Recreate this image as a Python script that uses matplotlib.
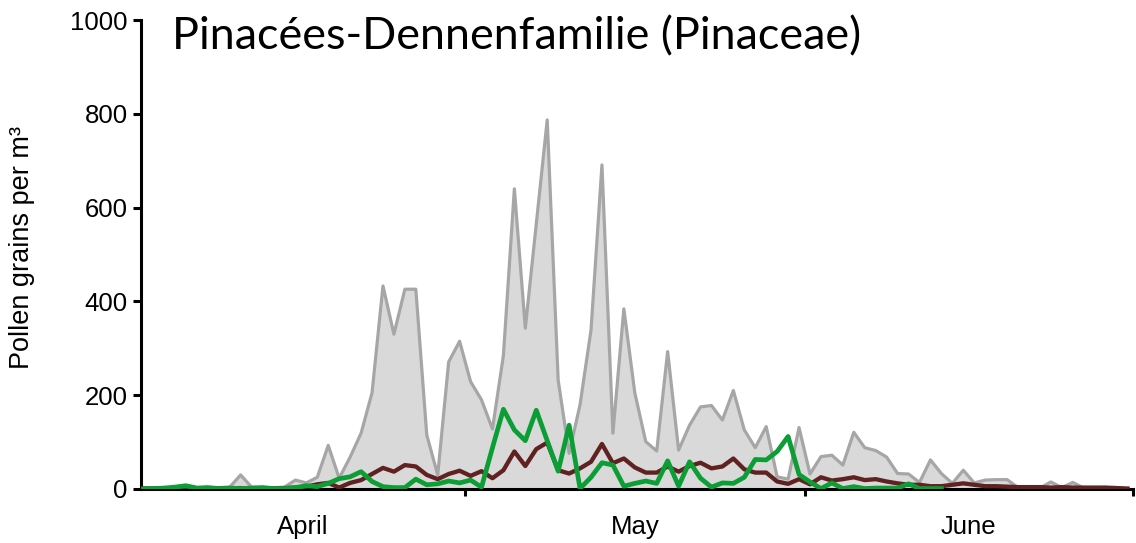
import matplotlib
matplotlib.use("Agg")
import matplotlib.pyplot as plt
import numpy as np

# daily pollen counts, 1 April (day 0) to 30 June (day 90)
gray_vals = [2, 2, 3, 2, 3, 2, 3, 3, 4,
             30, 4, 3, 3, 4, 19, 13, 25, 93, 23,
             68, 119, 205, 433, 330, 426, 426, 115, 30, 271,
             315, 229, 190, 128, 285, 640, 343, 565, 787, 232,
             76, 180, 339, 691, 119, 384, 205, 101, 81, 293,
             83, 136, 175, 178, 147, 210, 126, 88, 133, 26,
             21, 131, 32, 69, 72, 51, 121, 88, 82, 68,
             33, 32, 14, 62, 33, 12, 40, 13, 19, 20,
             20, 3, 2, 2, 15, 3, 14, 2, 2, 3,
             1, 1]
brown_vals = [1, 1, 1, 2, 1, 1, 2, 1, 1, 2, 1, 1, 1, 2,
              3, 5, 10, 13, 3, 13, 19, 32, 45, 37, 51,
              48, 30, 21, 32, 39, 28, 38, 23, 40, 80,
              49, 85, 99, 40, 33, 44, 58, 96, 55, 65,
              46, 35, 35, 48, 37, 49, 56, 44, 48, 65,
              42, 35, 35, 16, 11, 21, 10, 25, 18, 21,
              25, 19, 21, 16, 12, 9, 9, 6, 6, 9,
              12, 9, 6, 6, 5, 4, 4, 4, 3, 4,
              3, 3, 3, 3, 2, 1]
green_vals = [0, 1, 2, 4, 7, 2, 3, 1, 2, 1, 2, 3, 1, 1,
              3, 7, 5, 12, 22, 26, 37, 16, 5, 3, 3,
              21, 9, 11, 17, 13, 19, 4, 88, 170, 126,
              103, 168, 103, 38, 136, 1, 25, 56, 51, 6,
              12, 17, 12, 60, 6, 58, 23, 4, 13, 12,
              25, 63, 62, 80, 112, 31, 15, 1, 13, 1,
              5, 1, 2, 2, 2, 11, 1, 1, 1]
months = ["April", "May", "June"]
month_edges = [-0.1, 29.5, 60.5, 90.5]

days = np.arange(len(gray_vals))

plt.rcParams['font.family'] = ['Liberation Sans', 'DejaVu Sans']

fig = plt.figure(figsize=(11.36, 5.43), dpi=100)
ax = fig.add_axes([141/1136, 1 - 489/543, (1133-141)/1136, (489-20)/543])

ax.fill_between(days, gray_vals, 0, color='#d9d9d9', lw=0, zorder=1)
ax.plot(days, gray_vals, color='#a6a6a6', lw=2.3, zorder=2)
ax.plot(days, brown_vals, color='#5f2221', lw=3.1, zorder=3)
ax.plot(days[:len(green_vals)], green_vals, color='#0a9e35', lw=3.4, zorder=4)

ax.set_xlim(month_edges[0], month_edges[-1])
ax.set_ylim(0, 1000)
ax.set_yticks(range(0, 1001, 200))

ax.set_xticks(month_edges[1:])
ax.set_xticklabels([])
mids = [(month_edges[i] + month_edges[i+1]) / 2 for i in range(3)]
ax.set_xticks(mids, minor=True)
ax.set_xticklabels(months, minor=True)
ax.tick_params(axis='x', which='minor', length=0, pad=19, labelsize=18.5)
ax.tick_params(axis='x', which='major', length=5, width=2.2, direction='out')
ax.tick_params(axis='y', length=5.5, width=2.2, pad=4, labelsize=18.5)

for side in ['top', 'right']:
    ax.spines[side].set_visible(False)
for side in ['left', 'bottom']:
    ax.spines[side].set_linewidth(2.2)

fig.text(22/1136, 0.545, "Pollen grains per m³", rotation=90,
         ha='center', va='center', fontsize=19.5)

title = fig.text(172/1136, 1 - 37/543, "Pinacées-Dennenfamilie (Pinaceae)",
                 ha='left', va='center', fontsize=30, family=['Lato', 'DejaVu Sans'])
# fit the title to the width it has in the original
fig.canvas.draw()
w = title.get_window_extent().width
title.set_fontsize(30 * 688 / w)

fig.savefig("out.png", dpi=100)
